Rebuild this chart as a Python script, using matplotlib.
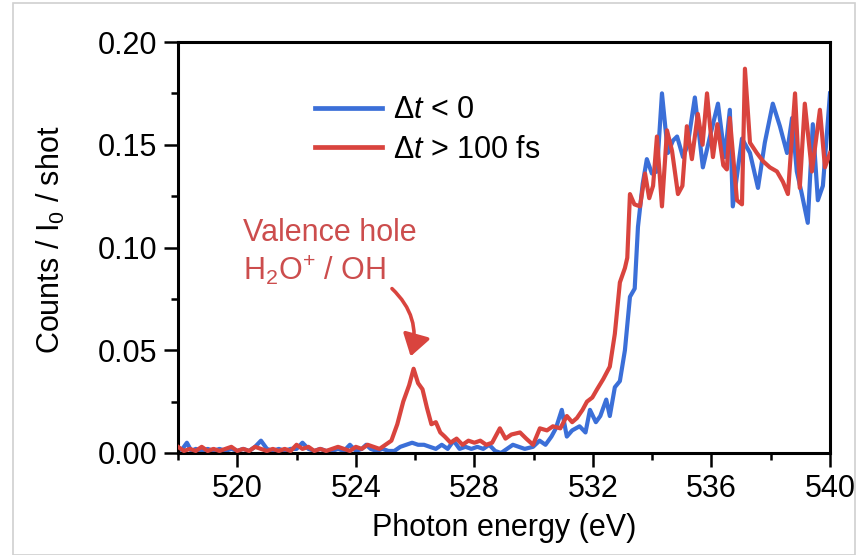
import numpy as np
import matplotlib
matplotlib.use("Agg")
import matplotlib.pyplot as plt
from matplotlib.patches import Rectangle

plt.rcParams['font.family'] = ['Liberation Sans', 'DejaVu Sans']
plt.rcParams['mathtext.fontset'] = 'custom'
plt.rcParams['mathtext.rm'] = 'Liberation Sans'
plt.rcParams['mathtext.it'] = 'Liberation Sans:italic'

# O K-edge spectra, before time zero and after 100 fs
neg_energy = [518.0, 518.15, 518.3, 518.45, 518.6, 518.8, 519.0, 519.2, 519.4, 519.6,
              519.8, 520.0, 520.2, 520.4, 520.6, 520.8, 521.0, 521.2, 521.4, 521.6,
              521.8, 522.0, 522.2, 522.4, 522.6, 522.8, 523.0, 523.2, 523.4, 523.6,
              523.8, 524.0, 524.2, 524.35, 524.5, 524.7, 524.9, 525.1, 525.3, 525.5,
              525.7, 525.9, 526.1, 526.3, 526.5, 526.7, 526.9, 527.1, 527.3, 527.5,
              527.7, 527.9, 528.1, 528.3, 528.5, 528.7, 528.9, 529.1, 529.3, 529.5,
              529.7, 529.98, 530.2, 530.4, 530.6, 530.75, 530.95, 531.12, 531.3, 531.55,
              531.75, 531.9, 532.1, 532.25, 532.45, 532.57, 532.74, 532.91, 533.08, 533.25,
              533.41, 533.52, 533.68, 533.82, 533.99, 534.16, 534.33, 534.53, 534.7, 534.84,
              535.04, 535.2, 535.44, 535.71, 535.95, 536.22, 536.45, 536.62, 536.72, 537.03,
              537.3, 537.57, 537.8, 538.07, 538.31, 538.55, 538.72, 538.88, 539.05, 539.25,
              539.42, 539.59, 539.76, 540.0]
neg_counts = [0.001, 0.002, 0.005, 0.001, 0.002, 0.001, 0.002, 0.001, 0.002, 0.001,
              0.002, 0.001, 0.002, 0.001, 0.003, 0.006, 0.002, 0.001, 0.002, 0.001,
              0.002, 0.002, 0.005, 0.002, 0.001, 0.002, 0.001, 0.001, 0.002, 0.001,
              0.004, 0.001, 0.002, 0.004, 0.002, 0.001, 0.002, 0.001, 0.001, 0.003,
              0.004, 0.005, 0.004, 0.004, 0.003, 0.002, 0.004, 0.002, 0.006, 0.002,
              0.003, 0.002, 0.003, 0.002, 0.004, 0.001, 0.000, 0.002, 0.004, 0.003,
              0.002, 0.003, 0.006, 0.004, 0.008, 0.012, 0.021, 0.008, 0.011, 0.013,
              0.010, 0.021, 0.015, 0.018, 0.026, 0.018, 0.032, 0.035, 0.050, 0.076,
              0.080, 0.110, 0.131, 0.143, 0.136, 0.137, 0.175, 0.146, 0.152, 0.154,
              0.144, 0.150, 0.173, 0.139, 0.154, 0.170, 0.144, 0.167, 0.120, 0.153,
              0.146, 0.129, 0.151, 0.170, 0.159, 0.146, 0.163, 0.137, 0.126, 0.112,
              0.160, 0.123, 0.130, 0.175]

pos_energy = [518.0, 518.2, 518.4, 518.6, 518.8, 519.0, 519.2, 519.4, 519.6, 519.8,
              520.0, 520.2, 520.4, 520.6, 520.8, 521.0, 521.2, 521.4, 521.6, 521.8,
              522.0, 522.2, 522.4, 522.6, 522.8, 523.0, 523.2, 523.4, 523.6, 523.8,
              524.0, 524.2, 524.4, 524.6, 524.8, 525.0, 525.2, 525.4, 525.6, 525.8,
              525.95, 526.1, 526.25, 526.4, 526.55, 526.7, 526.85, 527.0, 527.2, 527.4,
              527.6, 527.8, 528.0, 528.2, 528.4, 528.6, 528.86, 529.05, 529.25, 529.54,
              529.75, 529.98, 530.21, 530.45, 530.65, 530.9, 531.12, 531.3, 531.46, 531.65,
              531.8, 531.98, 532.14, 532.35, 532.57, 532.74, 532.91, 533.08, 533.16, 533.25,
              533.4, 533.59, 533.76, 533.9, 534.03, 534.16, 534.33, 534.5, 534.67, 534.87,
              535.02, 535.17, 535.34, 535.54, 535.7, 535.85, 536.05, 536.2, 536.4, 536.52,
              536.62, 536.86, 537.03, 537.13, 537.3, 537.53, 537.74, 537.97, 538.21, 538.41,
              538.58, 538.82, 538.98, 539.15, 539.39, 539.66, 539.83, 540.0]
pos_counts = [0.003, 0.001, 0.002, 0.001, 0.003, 0.001, 0.002, 0.001, 0.002, 0.003,
              0.001, 0.002, 0.001, 0.003, 0.002, 0.001, 0.002, 0.001, 0.002, 0.001,
              0.004, 0.002, 0.003, 0.001, 0.002, 0.001, 0.002, 0.003, 0.002, 0.001,
              0.003, 0.002, 0.004, 0.003, 0.002, 0.004, 0.006, 0.014, 0.025, 0.033,
              0.041, 0.034, 0.031, 0.022, 0.014, 0.015, 0.010, 0.008, 0.005, 0.007,
              0.004, 0.006, 0.005, 0.006, 0.004, 0.005, 0.012, 0.007, 0.009, 0.010,
              0.007, 0.004, 0.012, 0.011, 0.013, 0.012, 0.018, 0.015, 0.017, 0.021,
              0.025, 0.027, 0.031, 0.036, 0.042, 0.058, 0.083, 0.090, 0.095, 0.126,
              0.121, 0.120, 0.136, 0.124, 0.130, 0.154, 0.120, 0.157, 0.147, 0.126,
              0.130, 0.159, 0.143, 0.165, 0.150, 0.175, 0.144, 0.160, 0.140, 0.138,
              0.163, 0.123, 0.121, 0.187, 0.151, 0.146, 0.142, 0.139, 0.137, 0.132,
              0.126, 0.175, 0.129, 0.170, 0.137, 0.167, 0.139, 0.146]

x_ticks = [520, 524, 528, 532, 536, 540]
y_ticks = [0.00, 0.05, 0.10, 0.15, 0.20]

blue = '#3b6fd8'
red = '#d9443e'
note_red = '#cc4d4d'
fs = 22

fig = plt.figure(figsize=(8.58, 5.55), dpi=100)
fig.patches.append(Rectangle((13 / 858, 0.0), 842 / 858, 0.995, transform=fig.transFigure,
                             fill=False, edgecolor='#d0d0d0', lw=1.2))
ax = fig.add_axes([178 / 858, 102 / 555, 652 / 858, 411 / 555])

ax.plot(neg_energy, neg_counts, color=blue, lw=3.0, label=r'$\Delta t$ < 0', zorder=2)
ax.plot(pos_energy, pos_counts, color=red, lw=3.0, label=r'$\Delta t$ > 100 fs', zorder=3)

ax.set_xlim(518, 540)
ax.set_ylim(0, 0.2)
ax.set_xticks(x_ticks)
ax.set_xticks(np.arange(518, 540, 4), minor=True)
ax.set_yticks(y_ticks)
ax.set_yticks(np.arange(0.025, 0.2, 0.05), minor=True)
ax.set_yticklabels(['%.2f' % v for v in y_ticks])
ax.tick_params(which='major', length=10, width=1.8, labelsize=fs, pad=5, direction='out')
ax.tick_params(which='minor', length=5, width=1.8, direction='out')
for s in ax.spines.values():
    s.set_linewidth(2.2)

ax.set_xlabel('Photon energy (eV)', fontsize=fs)
ax.set_ylabel(r'Counts / I$_0$ / shot', fontsize=fs)
ax.yaxis.set_label_coords(-0.17, 0.52)
ax.xaxis.set_label_coords(0.5, -0.145)

leg = ax.legend(loc='upper left', bbox_to_anchor=(0.21, 0.87), frameon=False,
                fontsize=fs, handlelength=2.2, handletextpad=0.35, labelspacing=0.3,
                borderpad=0, borderaxespad=0)
for h in leg.get_lines():
    h.set_linewidth(3.4)

ax.text(520.2, 0.107, 'Valence hole', color=note_red, fontsize=fs, va='center', ha='left')
ax.text(520.2, 0.089, r'H$_2$O$^{+}$ / OH', color=note_red, fontsize=fs, va='center', ha='left')
ax.annotate('', xy=(525.85, 0.047), xytext=(525.22, 0.080),
            arrowprops=dict(arrowstyle='-|>,head_length=0.65,head_width=0.42',
                            connectionstyle='arc3,rad=-0.3', color=red, lw=2.6,
                            mutation_scale=20, shrinkA=0, shrinkB=0))

fig.savefig('out.png', dpi=100)
